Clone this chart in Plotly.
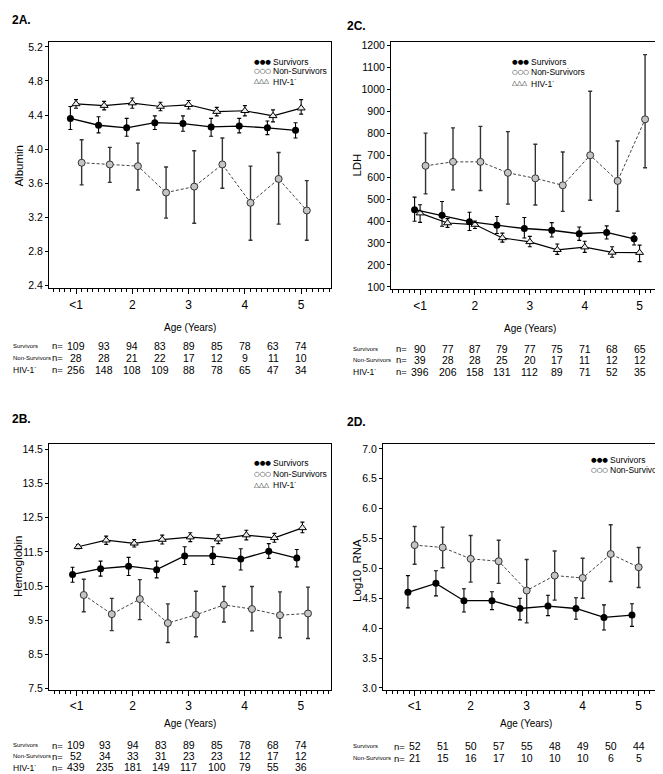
import plotly.graph_objects as go

# ---------------- data ----------------
ages = [1, 1.5, 2, 2.5, 3, 3.5, 4, 4.5, 5]
age_tickvals = [1, 2, 3, 4, 5]
age_ticktext = ["<1", "2", "3", "4", "5"]

# 2A Albumin
alb_surv = [4.36, 4.28, 4.25, 4.31, 4.30, 4.26, 4.27, 4.25, 4.22]
alb_surv_hi = [4.50, 4.38, 4.36, 4.39, 4.39, 4.36, 4.36, 4.33, 4.31]
alb_surv_lo = [4.23, 4.19, 4.15, 4.23, 4.21, 4.15, 4.19, 4.17, 4.13]
alb_hiv = [4.53, 4.51, 4.54, 4.50, 4.52, 4.44, 4.45, 4.39, 4.48]
alb_hiv_hi = [4.58, 4.56, 4.60, 4.55, 4.57, 4.49, 4.51, 4.46, 4.58]
alb_hiv_lo = [4.48, 4.46, 4.48, 4.45, 4.47, 4.39, 4.39, 4.32, 4.41]
alb_non = [3.84, 3.82, 3.80, 3.49, 3.56, 3.82, 3.37, 3.65, 3.28]
alb_non_hi = [4.11, 4.02, 4.07, 3.79, 3.98, 4.13, 3.80, 3.96, 3.63]
alb_non_lo = [3.58, 3.61, 3.52, 3.19, 3.13, 3.54, 2.93, 3.12, 2.93]

# 2C LDH
ldh_surv = [452, 426, 397, 381, 366, 358, 342, 348, 319]
ldh_surv_hi = [509, 489, 440, 421, 416, 393, 373, 378, 345]
ldh_surv_lo = [399, 376, 357, 343, 323, 327, 312, 318, 291]
ldh_hiv = [436, 391, 384, 323, 305, 269, 281, 257, 256]
ldh_hiv_hi = [474, 411, 400, 345, 330, 295, 308, 283, 290]
ldh_hiv_lo = [394, 371, 366, 304, 283, 248, 257, 235, 215]
ldh_non = [652, 670, 670, 620, 595, 563, 700, 583, 864]
ldh_non_hi = [801, 825, 832, 808, 750, 715, 992, 765, 1159]
ldh_non_lo = [524, 542, 539, 477, 473, 444, 495, 445, 643]

# 2B Hemoglobin
hb_surv = [10.84, 11.01, 11.08, 10.98, 11.38, 11.38, 11.29, 11.52, 11.32]
hb_surv_hi = [11.05, 11.23, 11.34, 11.23, 11.65, 11.65, 11.59, 11.74, 11.57]
hb_surv_lo = [10.61, 10.79, 10.81, 10.74, 11.13, 11.13, 10.97, 11.31, 11.06]
hb_hiv = [11.65, 11.84, 11.75, 11.86, 11.93, 11.87, 11.99, 11.91, 12.20]
hb_hiv_hi = [11.71, 11.96, 11.86, 11.99, 12.06, 12.00, 12.13, 12.04, 12.37]
hb_hiv_lo = [11.59, 11.72, 11.64, 11.73, 11.80, 11.74, 11.85, 11.78, 12.06]
hb_non = [10.24, 9.68, 10.12, 9.42, 9.66, 9.95, 9.83, 9.65, 9.70]
hb_non_hi = [10.70, 10.14, 10.69, 9.98, 10.35, 10.49, 10.49, 10.33, 10.47]
hb_non_lo = [9.75, 9.20, 9.52, 8.85, 9.02, 9.45, 9.19, 8.99, 8.97]

# 2D Log10 RNA
rna_surv = [4.60, 4.75, 4.46, 4.46, 4.33, 4.37, 4.33, 4.18, 4.22]
rna_surv_hi = [4.88, 4.96, 4.66, 4.61, 4.50, 4.55, 4.51, 4.39, 4.41]
rna_surv_lo = [4.34, 4.54, 4.27, 4.31, 4.14, 4.21, 4.15, 3.97, 4.03]
rna_non = [5.39, 5.35, 5.16, 5.12, 4.63, 4.88, 4.84, 5.24, 5.02]
rna_non_hi = [5.70, 5.69, 5.55, 5.47, 5.15, 5.29, 5.17, 5.73, 5.35]
rna_non_lo = [5.07, 5.01, 4.77, 4.75, 4.09, 4.47, 4.50, 4.78, 4.68]

# sample sizes
nA_surv = [109, 93, 94, 83, 89, 85, 78, 63, 74]
nA_non = [28, 28, 21, 22, 17, 12, 9, 11, 10]
nA_hiv = [256, 148, 108, 109, 88, 78, 65, 47, 34]
nC_surv = [90, 77, 87, 79, 77, 75, 71, 68, 65]
nC_non = [39, 28, 28, 25, 20, 17, 11, 12, 12]
nC_hiv = [396, 206, 158, 131, 112, 89, 71, 52, 35]
nB_surv = [109, 93, 94, 83, 89, 85, 78, 68, 74]
nB_non = [52, 34, 33, 31, 23, 23, 12, 17, 12]
nB_hiv = [439, 235, 181, 149, 117, 100, 79, 55, 36]
nD_surv = [52, 51, 50, 57, 55, 48, 49, 50, 44]
nD_non = [21, 15, 16, 17, 10, 10, 10, 6, 5]

group_labels = ["Survivors", "Non-Survivors", "HIV-1<sup>-</sup>"]

# ---------------- layout helpers ----------------
W, H = 663, 774
FONT = "Liberation Sans, Arial, Helvetica, sans-serif"

def px(x):
    return x / W

def py(y):
    return 1 - y / H

fig = go.Figure()
annotations = []

def add_group(axn, x, y, hi, lo, kind):
    xs = 'x' if axn == 1 else f'x{axn}'
    ys = 'y' if axn == 1 else f'y{axn}'
    err = dict(type='data', symmetric=False,
               array=[h - v for h, v in zip(hi, y)],
               arrayminus=[v - l for v, l in zip(y, lo)],
               width=2, thickness=1.1)
    if kind == 'surv':
        line = dict(color='black', width=1.3)
        marker = dict(symbol='circle', size=7, color='black')
        err['color'] = 'black'
    elif kind == 'hiv':
        line = dict(color='black', width=1.2)
        marker = dict(symbol='triangle-up', size=7, color='#ececec',
                      line=dict(color='black', width=1))
        err['color'] = 'black'
    else:
        line = dict(color='#444', width=1, dash='3px,2px')
        marker = dict(symbol='circle', size=7, color='#c4c4c4',
                      line=dict(color='#333', width=1))
        err['color'] = '#333'
        err['thickness'] = 1.4
    fig.add_trace(go.Scatter(x=x, y=y, mode='lines+markers', line=line,
                             marker=marker, error_y=err, xaxis=xs, yaxis=ys,
                             showlegend=False, hoverinfo='skip'))

def shift(vals, d):
    return [v + d for v in vals]

# panel 2A
add_group(1, shift(ages, 0.1), alb_non, alb_non_hi, alb_non_lo, 'non')
add_group(1, ages, alb_hiv, alb_hiv_hi, alb_hiv_lo, 'hiv')
add_group(1, shift(ages, -0.1), alb_surv, alb_surv_hi, alb_surv_lo, 'surv')
# panel 2C
add_group(2, shift(ages, 0.1), ldh_non, ldh_non_hi, ldh_non_lo, 'non')
add_group(2, ages, ldh_hiv, ldh_hiv_hi, ldh_hiv_lo, 'hiv')
add_group(2, shift(ages, -0.1), ldh_surv, ldh_surv_hi, ldh_surv_lo, 'surv')
# panel 2B
add_group(3, shift(ages, 0.13), hb_non, hb_non_hi, hb_non_lo, 'non')
add_group(3, shift(ages, 0.03), hb_hiv, hb_hiv_hi, hb_hiv_lo, 'hiv')
add_group(3, shift(ages, -0.07), hb_surv, hb_surv_hi, hb_surv_lo, 'surv')
# panel 2D
add_group(4, ages, rna_non, rna_non_hi, rna_non_lo, 'non')
add_group(4, shift(ages, -0.12), rna_surv, rna_surv_hi, rna_surv_lo, 'surv')

def xaxis_cfg(dom, rng):
    return dict(domain=dom, range=rng, tickvals=age_tickvals, ticktext=age_ticktext,
                ticks='outside', ticklen=5, tickcolor='black', tickwidth=1,
                showline=True, linecolor='black', linewidth=1, mirror=True,
                showgrid=False, zeroline=False,
                tickfont=dict(family=FONT, size=12, color='black'),
                minor=dict(dtick=0.1, tick0=0, ticks='outside', ticklen=3,
                           tickcolor='black', tickwidth=1, showgrid=False))

def yaxis_cfg(dom, rng, tick0, dtick, fmt, anchor):
    return dict(domain=dom, range=rng, tick0=tick0, dtick=dtick, tickformat=fmt,
                ticks='outside', ticklen=3, tickcolor='black', tickwidth=1,
                showline=True, linecolor='black', linewidth=1, mirror=True,
                showgrid=False, zeroline=False, anchor=anchor,
                tickfont=dict(family=FONT, size=10.5, color='black'))

domA_x = [px(41), px(323)]
domA_y = [py(281), py(32)]
domC_x = [px(383), px(661.5)]
domC_y = [py(282), py(32)]
domB_x = [px(41), px(323)]
domB_y = [py(686), py(438)]
domD_x = [px(375), px(661.5)]
domD_y = [py(686), py(438)]

layout = dict(
    width=W, height=H, margin=dict(l=0, r=0, t=0, b=0),
    paper_bgcolor='white', plot_bgcolor='white', showlegend=False,
    xaxis=dict(xaxis_cfg(domA_x, [0.52, 5.53]), anchor='y'),
    yaxis=yaxis_cfg(domA_y, [2.365, 5.26], 2.4, 0.4, '.1f', 'x'),
    xaxis2=dict(xaxis_cfg(domC_x, [0.47, 5.545]), anchor='y2'),
    yaxis2=yaxis_cfg(domC_y, [88, 1218], 100, 100, 'd', 'x2'),
    xaxis3=dict(xaxis_cfg(domB_x, [0.51, 5.54]), anchor='y3'),
    yaxis3=yaxis_cfg(domB_y, [7.47, 14.65], 7.5, 1, '.1f', 'x3'),
    xaxis4=dict(xaxis_cfg(domD_x, [0.435, 5.55]), anchor='y4'),
    yaxis4=yaxis_cfg(domD_y, [2.97, 7.08], 3.0, 0.5, '.1f', 'x4'),
)

def ann(text, x, y, size=10, family=FONT, xanchor='left', xref='paper',
        bold=False, angle=0, color='black'):
    if bold:
        text = f"<b>{text}</b>"
    annotations.append(dict(text=text, x=x if xref != 'paper' else px(x), y=py(y),
                            xref=xref, yref='paper', showarrow=False,
                            xanchor=xanchor, yanchor='middle', textangle=angle,
                            font=dict(family=family, size=size, color=color)))

# panel labels
ann("2A.", 2, 10, size=12, bold=True)
ann("2C.", 337, 16, size=12, bold=True)
ann("2B.", 2, 413, size=12, bold=True)
ann("2D.", 337, 416, size=12, bold=True)

# y-axis titles
ann("Albumin", 11, 157, size=11.5, xanchor='center', angle=-90)
ann("LDH", 349, 157, size=11.5, xanchor='center', angle=-90)
ann("Hemoglobin", 10, 562, size=11.5, xanchor='center', angle=-90)
ann("Log10  RNA", 349, 566, size=11.5, xanchor='center', angle=-90)

# x-axis titles
ann("Age (Years)", 182, 320, size=10, xanchor='center')
ann("Age (Years)", 522, 321, size=10, xanchor='center')
ann("Age (Years)", 182, 720, size=10, xanchor='center')
ann("Age (Years)", 518, 720, size=10, xanchor='center')

# legends
def legend(sym_x, text_x, rows, ys):
    syms = {'surv': "●●●", 'non': "○○○", 'hiv': "△△△"}
    names = {'surv': "Survivors", 'non': "Non-Survivors", 'hiv': "HIV-1<sup>-</sup>"}
    for k, yy in zip(rows, ys):
        ann(syms[k], sym_x, yy, size=6.5, family="DejaVu Sans")
        ann(names[k], text_x, yy, size=8.5)

legend(244, 263, ['surv', 'non', 'hiv'], [52, 62, 72])
legend(502, 521, ['surv', 'non', 'hiv'], [52, 63, 74])
legend(244, 263, ['surv', 'non', 'hiv'], [457, 468, 479])
legend(581, 600, ['surv', 'non'], [454, 464])

# sample-size tables
def table(axn, lab_x, n_right, ys, rows):
    xr = 'x' if axn == 1 else f'x{axn}'
    for (label, counts), yy in zip(rows, ys):
        big = label.startswith("HIV")
        ann(label, lab_x, yy, size=8.5 if big else 6)
        ann("n=", n_right, yy, size=9.5, xanchor='right')
        for a, c in zip(ages, counts):
            ann(str(c), a, yy, size=10.5, xanchor='center', xref=xr)

table(1, 3, 57, [339, 351, 363],
      [(group_labels[0], nA_surv), (group_labels[1], nA_non), (group_labels[2], nA_hiv)])
table(2, 343, 401, [342, 353, 365],
      [(group_labels[0], nC_surv), (group_labels[1], nC_non), (group_labels[2], nC_hiv)])
table(3, 3, 57, [742, 753, 764],
      [(group_labels[0], nB_surv), (group_labels[1], nB_non), (group_labels[2], nB_hiv)])
table(4, 343, 399, [743, 755],
      [(group_labels[0], nD_surv), (group_labels[1], nD_non)])

layout['annotations'] = annotations
fig.update_layout(**layout)
fig.write_html("out.html")
